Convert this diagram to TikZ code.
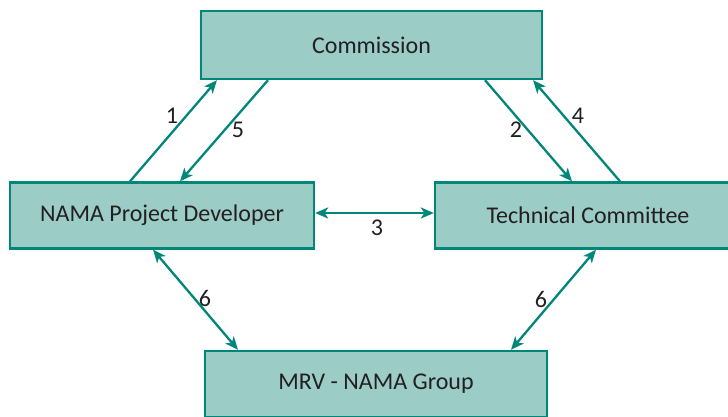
\documentclass[tikz,border=0pt]{standalone}
\usepackage{fontspec}
\setmainfont{Carlito}
\usetikzlibrary{arrows.meta,calc}
\definecolor{boxfill}{HTML}{9BCDC6}
\definecolor{teal}{HTML}{00877A}
\definecolor{txt}{HTML}{231F20}
\begin{document}
\begin{tikzpicture}[x=1pt,y=-1pt,
  box/.style={draw=teal,fill=boxfill,line width=2.3pt,rectangle,inner sep=0pt,
    text=txt,font=\fontsize{24}{28}\selectfont},
  tip/.style={Stealth[length=13pt,width=11pt,inset=3.5pt]},
  arr/.style={draw=teal,line width=2.3pt,-{Stealth[length=13pt,width=11pt,inset=3.5pt]}},
  darr/.style={draw=teal,line width=2.3pt,{Stealth[length=13pt,width=11pt,inset=3.5pt]}-{Stealth[length=13pt,width=11pt,inset=3.5pt]}},
  lbl/.style={text=txt,font=\fontsize{24}{28}\selectfont,inner sep=0pt}]
\useasboundingbox (0,0) rectangle (728,417);
\clip (0,0) rectangle (728,417);
\node[box,minimum width=341pt,minimum height=68pt] (comm) at (371.5,45) {Commission};
\node[box,minimum width=304pt,minimum height=66pt] (nama) at (162,215.5) {NAMA Project Developer};
\node[box,minimum width=306pt,minimum height=66pt] (tc) at (588,215.5) {Technical Committee};
\node[box,minimum width=342pt,minimum height=66pt] (mrv) at (376,384) {MRV - NAMA Group};
% connectors
\draw[arr] (nama.north -| 130,0) -- (comm.south -| 217,0);
\draw[arr] (comm.south -| 268,0) -- (nama.north -| 180,0);
\draw[arr] (comm.south -| 485,0) -- (tc.north -| 572,0);
\draw[arr] (tc.north -| 620,0) -- (comm.south -| 533,0);
\draw[darr] (nama.east |- 0,213) -- (tc.west |- 0,213);
\draw[darr] (nama.south -| 153,0) -- (mrv.north -| 238,0);
\draw[darr] (tc.south -| 596,0) -- (mrv.north -| 511,0);
% labels
\node[lbl] (l1) at (172,116) {1};
\node[lbl] (l5) at (238,130) {5};
\node[lbl] (l2) at (516,130) {2};
\node[lbl] (l4) at (578,116) {4};
\node[lbl] (l3) at (377,228) {3};
\node[lbl] (l6a) at (205,298) {6};
\node[lbl] (l6b) at (541,299) {6};
\end{tikzpicture}
\end{document}
